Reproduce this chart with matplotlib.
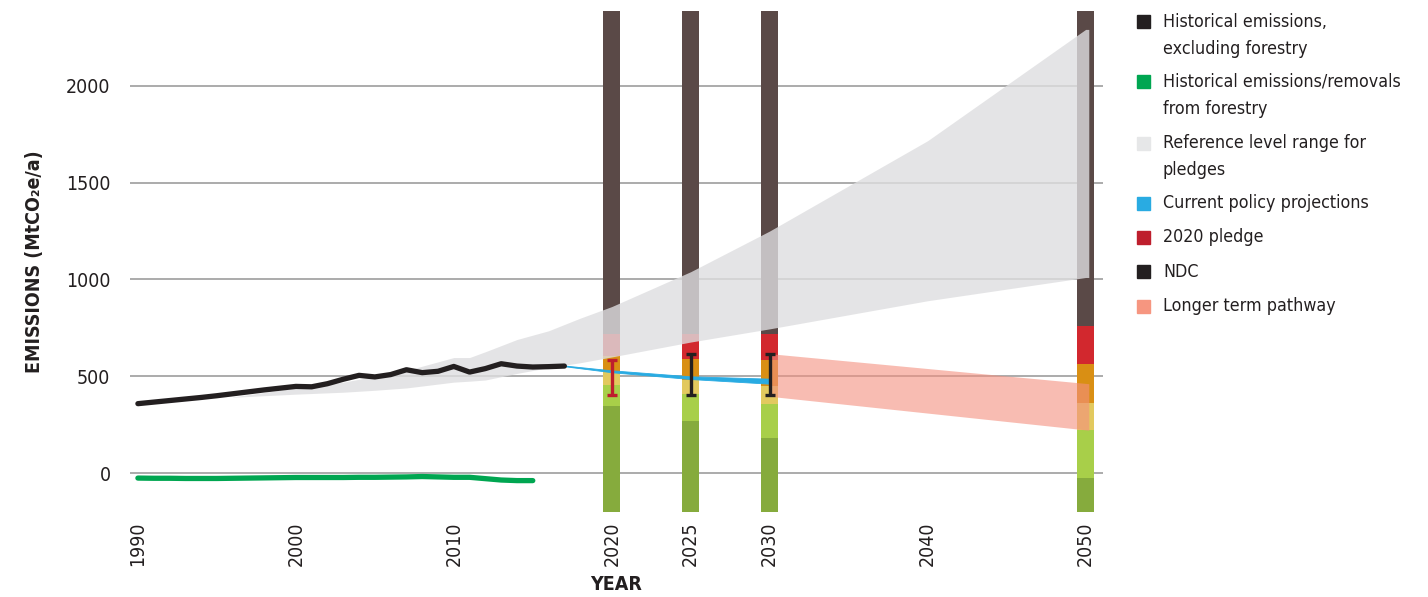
import matplotlib
matplotlib.use("Agg")
import matplotlib.pyplot as plt
from matplotlib import font_manager
from matplotlib.patches import Rectangle

# pick a narrow sans face if one is available
installed = {(f.name, f.stretch) for f in font_manager.fontManager.ttflist}
names = {n for n, _ in installed}
if 'Liberation Sans Narrow' in names:
    base_font, stretch = 'Liberation Sans Narrow', 'normal'
elif ('DejaVu Sans', 'condensed') in installed:
    base_font, stretch = 'DejaVu Sans', 'condensed'
else:
    base_font, stretch = 'Roboto', 'normal'
plt.rcParams['font.family'] = [base_font, 'DejaVu Sans']
plt.rcParams['font.stretch'] = stretch

# Historical emissions excluding forestry (MtCO2e/a)
hist_years = list(range(1990, 2018))
hist_values = [359, 367, 375, 383, 391, 400, 410, 420, 430, 439, 448, 446, 462, 485,
               505, 497, 509, 534, 519, 526, 551, 522, 540, 565, 553, 548, 550, 553]

# Historical emissions/removals from forestry
forest_years = list(range(1990, 2016))
forest_values = [-25, -26, -26, -27, -27, -27, -26, -25, -24, -23, -22, -22, -22,
                 -22, -21, -21, -20, -19, -17, -19, -21, -21, -28, -35, -38, -38]

# Reference level range for pledges
ref_years = [1996, 2000, 2003, 2005, 2007, 2010, 2011, 2012, 2014, 2016, 2018,
             2020, 2025, 2030, 2040, 2050, 2050.2]
ref_low = [392, 408, 418, 428, 440, 470, 475, 481, 515, 545, 570,
           600, 677, 745, 890, 1010, 1010]
ref_high = [394, 440, 470, 500, 530, 597, 597, 627, 690, 735, 800,
            860, 1040, 1250, 1716, 2290, 2290]

# Current policy projections
cpp_years = [2017.1, 2020, 2025, 2030]
cpp_low = [551, 521, 486, 462]
cpp_high = [555, 531, 500, 488]

# 2020 pledge and NDC ranges
pledge_years = [2020]
pledge_low = [402]
pledge_high = [586]
ndc_years = [2025, 2030]
ndc_low = [402, 402]
ndc_high = [617, 617]

# Longer term pathway
path_years = [2030, 2050.2]
path_low = [397, 222]
path_high = [617, 462]

# Rating bands behind the target years (upper edge of each band)
bar_years = [2020, 2025, 2030, 2050]
y_min, y_max = -200, 2385
band_tops = [
    [345, 268, 182, -22],      # role model
    [454, 407, 356, 225],      # 1.5C compatible
    [522, 479, 448, 362],      # 2C compatible
    [606, 591, 586, 562],      # insufficient
    [718, 718, 720, 758],      # highly insufficient
    [y_max] * 4,               # critically insufficient
]
band_colors = ['#86ab3d', '#a8cf49', '#e2c95e', '#d98f14', '#d2282e', '#5a4947']

legend_labels = ['Historical emissions,\nexcluding forestry',
                 'Historical emissions/removals\nfrom forestry',
                 'Reference level range for\npledges',
                 'Current policy projections',
                 '2020 pledge',
                 'NDC',
                 'Longer term pathway']
legend_colors = ['#231f20', '#00a651', '#e6e7e8', '#29abe2', '#be1e2d', '#231f20', '#f69680']

fig = plt.figure(figsize=(14.28, 5.97), dpi=100)
W, H = 1428, 597
ax = fig.add_axes([130 / W, 1 - 512 / H, (1103 - 130) / W, (512 - 11) / H])

bottoms = [y_min] * len(bar_years)
for tops, col in zip(band_tops, band_colors):
    heights = [t - b for t, b in zip(tops, bottoms)]
    ax.bar(bar_years, heights, bottom=bottoms, width=1.07, color=col, zorder=2, linewidth=0)
    bottoms = tops

ax.fill_between(ref_years, ref_low, ref_high, color='#dedee0', alpha=0.8, lw=0, zorder=3)
ax.fill_between(path_years, path_low, path_high, color='#f4907f', alpha=0.6, lw=0, zorder=4)
ax.fill_between(cpp_years, cpp_low, cpp_high, color='#29abe2', lw=0.6, edgecolor='#29abe2', zorder=5)

ax.plot(hist_years, hist_values, color='#231f20', lw=3.8, solid_capstyle='round',
        solid_joinstyle='round', zorder=6)
ax.plot(forest_years, forest_values, color='#00a651', lw=3.8, solid_capstyle='round',
        solid_joinstyle='round', zorder=6)

for yrs, lo, hi, col in [(pledge_years, pledge_low, pledge_high, '#be1e2d'),
                         (ndc_years, ndc_low, ndc_high, '#231f20')]:
    mid = [(a + b) / 2 for a, b in zip(lo, hi)]
    err = [(b - a) / 2 for a, b in zip(lo, hi)]
    ax.errorbar(yrs, mid, yerr=err, fmt='none', ecolor=col, elinewidth=2.4,
                capsize=3.5, capthick=2.4, zorder=7)

ax.set_xlim(1989.5, 2051.1)
ax.set_ylim(y_min, y_max)
ax.set_yticks([0, 500, 1000, 1500, 2000])
ax.set_xticks([1990, 2000, 2010, 2020, 2025, 2030, 2040, 2050])
ax.tick_params(axis='y', length=0, pad=14, labelsize=14, labelcolor='#231f20')
ax.tick_params(axis='x', length=0, pad=7, labelsize=14, labelcolor='#231f20', labelrotation=90)
ax.grid(axis='y', color='#9d9d9d', lw=1.2, zorder=0)
ax.set_axisbelow(True)
for s in ax.spines.values():
    s.set_visible(False)

ax.set_xlabel('YEAR', fontsize=14, fontweight='bold', color='#231f20', labelpad=6)
ax.set_ylabel('EMISSIONS (MtCO₂e/a)', fontsize=14, fontweight='bold', color='#231f20', labelpad=16)

# legend drawn by hand on the right
y_rows = [21.7, 81.7, 143.3, 203.3, 237.3, 271.7, 306]
for y, lab, col in zip(y_rows, legend_labels, legend_colors):
    fig.patches.append(Rectangle((1137 / W, 1 - (y + 6.5) / H), 13 / W, 13 / H,
                                 color=col, transform=fig.transFigure, figure=fig))
    for k, line in enumerate(lab.split('\n')):
        fig.text(1163 / W, 1 - (y + 27 * k) / H, line, fontsize=12.8, color='#231f20',
                 va='center', ha='left')

fig.savefig('out.png', dpi=100)
